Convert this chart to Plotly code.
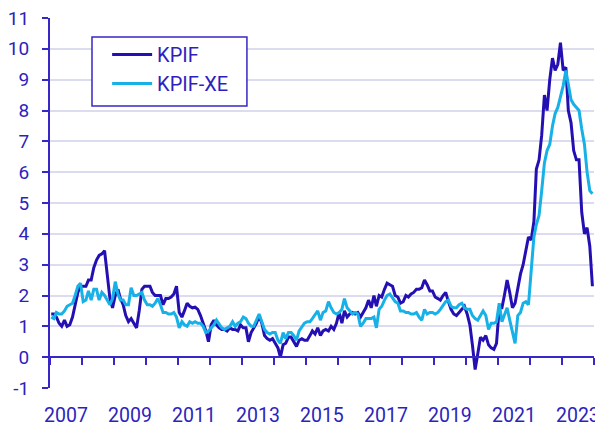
import pandas as pd
import plotly.graph_objects as go

months = (pd.date_range("2007-01-01", periods=204, freq="MS") + pd.Timedelta(days=14)).strftime("%Y-%m-%d").tolist()

kpif = [
    1.4, 1.4, 1.3, 1.1, 1.0, 1.2, 1.0, 1.05, 1.3, 1.7, 2.1, 2.3,        # 2007
    2.3, 2.3, 2.5, 2.5, 2.9, 3.15, 3.3, 3.35, 3.45, 2.6, 1.9, 1.6,       # 2008
    2.0, 2.2, 1.9, 1.7, 1.35, 1.15, 1.25, 1.1, 0.95, 1.5, 2.2, 2.3,     # 2009
    2.3, 2.3, 2.1, 2.0, 2.0, 2.0, 1.7, 1.9, 1.9, 1.95, 2.05, 2.3,       # 2010
    1.45, 1.3, 1.5, 1.75, 1.65, 1.6, 1.62, 1.55, 1.35, 1.1, 0.85, 0.5,  # 2011
    1.05, 1.2, 1.05, 0.95, 0.9, 0.9, 0.85, 0.95, 0.9, 0.9, 0.85, 1.05,  # 2012
    0.95, 0.95, 0.5, 0.8, 0.95, 1.1, 1.35, 1.1, 0.7, 0.6, 0.55, 0.6,    # 2013
    0.45, 0.3, 0.0, 0.4, 0.45, 0.65, 0.65, 0.5, 0.35, 0.55, 0.6, 0.55,  # 2014
    0.55, 0.7, 0.85, 0.75, 0.95, 0.7, 0.85, 0.9, 0.85, 1.0, 0.9, 1.1,   # 2015
    1.45, 1.1, 1.5, 1.3, 1.4, 1.45, 1.4, 1.45, 1.3, 1.45, 1.6, 1.85,    # 2016
    1.6, 2.0, 1.65, 2.0, 1.95, 2.2, 2.4, 2.35, 2.3, 2.0, 1.95, 1.75,    # 2017
    1.8, 2.0, 1.95, 2.05, 2.1, 2.2, 2.2, 2.25, 2.5, 2.35, 2.15, 2.15,   # 2018
    1.95, 1.9, 1.85, 2.0, 2.1, 1.8, 1.55, 1.4, 1.35, 1.45, 1.55, 1.65,  # 2019
    1.4, 1.05, 0.4, -0.4, 0.1, 0.65, 0.55, 0.7, 0.4, 0.3, 0.25, 0.45,   # 2020
    1.6, 1.6, 2.0, 2.5, 2.1, 1.6, 1.75, 2.3, 2.7, 3.0, 3.5, 3.9,        # 2021
    3.8, 4.4, 6.1, 6.4, 7.2, 8.5, 8.0, 9.0, 9.7, 9.3, 9.5, 10.2,        # 2022
    9.3, 9.4, 8.0, 7.6, 6.7, 6.4, 6.4, 4.7, 4.0, 4.2, 3.6, 2.3,         # 2023
]

kpif_xe = [
    1.3, 1.25, 1.45, 1.4, 1.4, 1.5, 1.65, 1.7, 1.75, 2.0, 2.3, 2.4,     # 2007
    1.8, 1.85, 2.15, 1.85, 2.2, 2.2, 1.85, 2.1, 2.0, 1.85, 1.7, 1.9,    # 2008
    2.45, 2.05, 1.85, 1.85, 1.7, 1.7, 2.25, 2.0, 2.0, 2.05, 2.1, 1.85,  # 2009
    1.7, 1.7, 1.65, 1.75, 1.9, 1.7, 1.45, 1.45, 1.4, 1.4, 1.45, 1.3,    # 2010
    0.95, 1.15, 1.05, 1.0, 1.15, 1.1, 1.15, 1.1, 1.1, 1.0, 0.8, 0.85,   # 2011
    0.95, 1.05, 1.2, 1.05, 0.95, 0.9, 0.95, 1.0, 1.15, 1.0, 1.1, 1.15,  # 2012
    1.3, 1.25, 1.1, 1.0, 1.0, 1.2, 1.4, 1.15, 0.9, 0.8, 0.75, 0.8,      # 2013
    0.8, 0.55, 0.45, 0.8, 0.6, 0.8, 0.8, 0.7, 0.55, 0.85, 1.0, 1.1,     # 2014
    1.15, 1.15, 1.25, 1.4, 1.5, 1.2, 1.45, 1.5, 1.8, 1.6, 1.45, 1.4,    # 2015
    1.45, 1.55, 1.9, 1.6, 1.5, 1.4, 1.45, 1.4, 1.0, 1.1, 1.25, 1.25,    # 2016
    1.25, 1.3, 0.95, 1.55, 1.65, 1.85, 2.0, 2.05, 1.9, 1.8, 1.75, 1.5,  # 2017
    1.5, 1.45, 1.45, 1.4, 1.4, 1.45, 1.3, 1.2, 1.55, 1.4, 1.45, 1.45,   # 2018
    1.4, 1.45, 1.55, 1.7, 1.8, 1.85, 1.65, 1.6, 1.6, 1.7, 1.75, 1.6,    # 2019
    1.55, 1.55, 1.35, 1.25, 1.2, 1.35, 1.5, 1.35, 0.9, 1.1, 1.1, 1.15,  # 2020
    1.75, 1.15, 1.4, 1.6, 1.2, 0.8, 0.45, 1.35, 1.45, 1.75, 1.8, 1.7,   # 2021
    2.9, 3.9, 4.3, 4.6, 5.4, 6.3, 6.7, 6.9, 7.5, 7.9, 8.1, 8.45,        # 2022
    8.8, 9.3, 8.9, 8.35, 8.2, 8.1, 8.0, 7.4, 6.9, 6.0, 5.4, 5.3,        # 2023
]

label_years = [str(y) for y in range(2007, 2024, 2)]
label_pos = [f"{y}-07-02" for y in range(2007, 2024, 2)]
year_starts = [f"{y}-01-01" for y in range(2007, 2025)]
y_ticks = list(range(-1, 12))
y_tick_text = ["-1", "0", "1", "2", "3", "4", "5", "6", "7", "8", "9", "10", "11"]

AXIS = "#3627c6"
TEXT = "#2e1fbe"
GRID = "#dcdcf1"
C_KPIF = "#2410b2"
C_XE = "#17b1e7"
FONT = "Roboto"
TICK_SIZE = 19.5
LEG_SIZE = 20

fig = go.Figure()
fig.add_trace(go.Scatter(x=months, y=kpif, name="KPIF", mode="lines",
                         line=dict(color=C_KPIF, width=3), legendgroup="a"))
fig.add_trace(go.Scatter(x=months, y=kpif_xe, name="KPIF-XE", mode="lines",
                         line=dict(color=C_XE, width=3), legendgroup="b"))

# legend frame
fig.add_shape(type="rect", xref="paper", yref="paper",
              x0=0.0772, x1=0.362, y0=0.762, y1=0.9486,
              line=dict(color=AXIS, width=1.5), fillcolor="white", layer="above")

# the page adds an 8px body margin, so the figure is 8px smaller than the window
fig.update_layout(
    width=595, height=418,
    margin=dict(l=42, r=9, t=10, b=38, autoexpand=False),
    paper_bgcolor="white", plot_bgcolor="white",
    font=dict(family=FONT, size=TICK_SIZE, color=TEXT),
    showlegend=True,
    legend=dict(x=0.105, y=0.954, xanchor="left", yanchor="top",
                borderwidth=0, bgcolor="rgba(0,0,0,0)",
                font=dict(family=FONT, size=LEG_SIZE, color=TEXT),
                itemwidth=40,
                tracegroupgap=11, traceorder="normal"),
    xaxis=dict(
        type="date",
        range=["2007-01-01", "2024-01-02"],
        anchor="free", position=1/12,
        automargin=False, ticklabeloverflow="allow",
        showline=True, linecolor=AXIS, linewidth=2,
        showgrid=False, zeroline=False,
        tickmode="array", tickvals=label_pos, ticktext=label_years,
        ticks="", ticklabelstandoff=40,
        tickfont=dict(family=FONT, size=TICK_SIZE, color=TEXT),
        minor=dict(tickmode="array", tickvals=year_starts, ticks="outside",
                   ticklen=7, tickwidth=2, tickcolor=AXIS, showgrid=False),
    ),
    yaxis=dict(
        range=[-1, 11],
        automargin=False, ticklabeloverflow="allow",
        tickmode="array", tickvals=y_ticks, ticktext=y_tick_text,
        showline=True, linecolor=AXIS, linewidth=2,
        showgrid=True, gridcolor=GRID, gridwidth=1.5,
        zeroline=False,
        ticks="outside", ticklen=6, tickwidth=2, tickcolor=AXIS,
        ticklabelstandoff=9,
        tickfont=dict(family=FONT, size=19, color=TEXT),
    ),
)

fig.write_html("out.html")
